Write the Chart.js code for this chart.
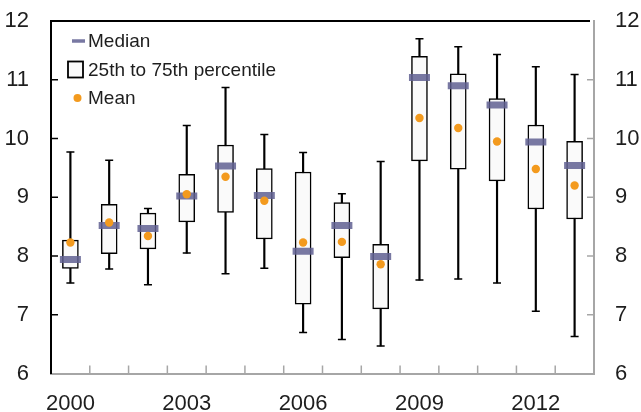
<!doctype html>
<html>
<head>
    <meta charset="utf-8">
    <title>Box plot 2000-2013</title>
    <script src="https://cdn.jsdelivr.net/npm/chart.js"></script>
    <style>
        html, body { margin: 0; padding: 0; background: #fff; }
        #wrap { width: 641px; height: 412px; }
    </style>
</head>
<body>
<div id="wrap"><canvas id="myChart" width="641" height="412"></canvas></div>

<script>
    var years = ['2000', '2001', '2002', '2003', '2004', '2005', '2006', '2007', '2008', '2009', '2010', '2011', '2012', '2013'];
    var whiskerHigh = [9.77, 9.63, 8.81, 10.22, 10.87, 10.07, 9.76, 9.06, 9.61, 11.70, 11.56, 11.43, 11.22, 11.09];
    var q3 = [8.27, 8.88, 8.73, 9.39, 9.89, 9.49, 9.43, 8.91, 8.20, 11.40, 11.10, 10.68, 10.23, 9.95];
    var median = [7.94, 8.52, 8.47, 9.02, 9.53, 9.03, 8.08, 8.52, 7.99, 11.04, 10.90, 10.57, 9.94, 9.54];
    var q1 = [7.79, 8.04, 8.12, 8.58, 8.74, 8.29, 7.18, 7.97, 7.10, 9.62, 9.48, 9.28, 8.80, 8.63];
    var whiskerLow = [7.54, 7.78, 7.51, 8.05, 7.70, 7.79, 6.70, 6.58, 6.47, 7.59, 7.61, 7.54, 7.06, 6.63];
    var mean = [8.23, 8.57, 8.34, 9.05, 9.35, 8.94, 8.23, 8.24, 7.86, 10.35, 10.18, 9.95, 9.48, 9.20];
    var yTicks = [6, 7, 8, 9, 10, 11, 12];
    var legendItems = ['Median', '25th to 75th percentile', 'Mean'];

    var medianColor = 'rgba(96,96,146,0.85)';
    var meanColor = '#f39a1e';
    var textColor = '#1e1e1e';
    var greyAxis = '#a6a6a6';
    var font = 'Liberation Sans, Arial, sans-serif';

    function pairs(lo, hi) {
        var out = [];
        for (var i = 0; i < lo.length; i++) {
            out.push([lo[i], hi[i]]);
        }
        return out;
    }

    // fixed axis sizes so the plot area sits where the original's does
    function fixWidth(w) {
        return function (s) {
            s.width = w;
            s.paddingTop = 0;
            s.paddingBottom = 0;
        };
    }

    // inward ticks, black top border and the legend inside the plot
    var framePlugin = {
        id: 'frame',
        afterDraw: function (chart) {
            var ctx = chart.ctx;
            var area = chart.chartArea;
            var x = chart.scales.x;
            var y = chart.scales.y;
            ctx.save();

            ctx.strokeStyle = '#000';
            ctx.lineWidth = 2;
            ctx.beginPath();
            ctx.moveTo(area.left - 1, area.top);
            ctx.lineTo(area.right - 4, area.top);
            ctx.stroke();

            ctx.lineWidth = 1.5;
            for (var i = 1; i < years.length; i++) {
                var bx = (x.getPixelForValue(i - 1) + x.getPixelForValue(i)) / 2;
                ctx.strokeStyle = greyAxis;
                ctx.beginPath();
                ctx.moveTo(bx, area.bottom);
                ctx.lineTo(bx, area.bottom - 8);
                ctx.stroke();
            }
            for (var j = 1; j < yTicks.length - 1; j++) {
                var ty = y.getPixelForValue(yTicks[j]);
                ctx.strokeStyle = '#000';
                ctx.beginPath();
                ctx.moveTo(area.left, ty);
                ctx.lineTo(area.left + 7, ty);
                ctx.stroke();
                ctx.strokeStyle = greyAxis;
                ctx.beginPath();
                ctx.moveTo(area.right, ty);
                ctx.lineTo(area.right - 7, ty);
                ctx.stroke();
            }

            // legend
            var lx = area.left + 21;
            var rows = [area.top + 20, area.top + 48.5, area.top + 77];
            ctx.strokeStyle = medianColor;
            ctx.lineWidth = 3.5;
            ctx.beginPath();
            ctx.moveTo(lx, rows[0]);
            ctx.lineTo(lx + 13, rows[0]);
            ctx.stroke();

            ctx.fillStyle = '#fafafa';
            ctx.strokeStyle = '#000';
            ctx.lineWidth = 1.8;
            ctx.fillRect(lx - 4, rows[1] - 8, 15, 16);
            ctx.strokeRect(lx - 4, rows[1] - 8, 15, 16);

            ctx.fillStyle = meanColor;
            ctx.beginPath();
            ctx.arc(lx + 5.5, rows[2], 4, 0, Math.PI * 2);
            ctx.fill();

            ctx.fillStyle = textColor;
            ctx.font = '19px ' + font;
            ctx.textBaseline = 'middle';
            ctx.textAlign = 'left';
            for (var k = 0; k < legendItems.length; k++) {
                ctx.fillText(legendItems[k], lx + 16, rows[k] + 1);
            }
            ctx.restore();
        }
    };

    var tickFont = { family: font, size: 22 };

    new Chart(document.getElementById('myChart'), {
        type: 'bar',
        data: {
            labels: years,
            datasets: [{
                label: 'whisker',
                data: pairs(whiskerLow, whiskerHigh),
                backgroundColor: '#000',
                barThickness: 1.5,
                grouped: false,
                order: 5
            }, {
                label: 'box',
                data: pairs(q1, q3),
                backgroundColor: '#fafafa',
                borderColor: '#000',
                borderWidth: 1.5,
                borderSkipped: false,
                barThickness: 16,
                grouped: false,
                order: 4
            }, {
                type: 'line',
                label: 'high',
                data: whiskerHigh,
                showLine: false,
                pointStyle: 'line',
                pointRadius: 4,
                pointBorderWidth: 1.5,
                pointBorderColor: '#000',
                order: 3
            }, {
                type: 'line',
                label: 'low',
                data: whiskerLow,
                showLine: false,
                pointStyle: 'line',
                pointRadius: 4,
                pointBorderWidth: 1.5,
                pointBorderColor: '#000',
                order: 3
            }, {
                type: 'line',
                label: 'Median',
                data: median,
                showLine: false,
                pointStyle: 'line',
                pointRadius: 10.5,
                pointBorderWidth: 7,
                pointBorderColor: medianColor,
                order: 1
            }, {
                type: 'line',
                label: 'Mean',
                data: mean,
                showLine: false,
                pointStyle: 'circle',
                pointRadius: 4.2,
                pointBorderWidth: 0,
                pointBackgroundColor: meanColor,
                order: 0
            }]
        },
        options: {
            responsive: false,
            animation: false,
            events: [],
            layout: { padding: { top: 21, left: 0, right: 0, bottom: 0 } },
            plugins: {
                legend: { display: false },
                tooltip: { enabled: false }
            },
            scales: {
                x: {
                    offset: true,
                    grid: { display: false, drawTicks: false },
                    border: { display: true, color: greyAxis, width: 2 },
                    ticks: {
                        autoSkip: false,
                        maxRotation: 0,
                        padding: 17,
                        color: textColor,
                        font: tickFont,
                        callback: function (v, i) {
                            return i % 3 === 0 ? years[i] : '';
                        }
                    },
                    afterFit: function (s) {
                        s.height = 38.5;
                        s.paddingLeft = 0;
                        s.paddingRight = 0;
                    }
                },
                y: {
                    position: 'left',
                    min: 6,
                    max: 12,
                    grid: { display: false, drawTicks: false },
                    border: { display: true, color: '#000', width: 2 },
                    ticks: { stepSize: 1, padding: 22, color: textColor, font: tickFont },
                    afterFit: fixWidth(51)
                },
                y2: {
                    position: 'right',
                    min: 6,
                    max: 12,
                    grid: { display: false, drawTicks: false },
                    border: { display: true, color: greyAxis, width: 2 },
                    ticks: { stepSize: 1, padding: 21, color: textColor, font: tickFont },
                    afterFit: fixWidth(47)
                }
            }
        },
        plugins: [framePlugin]
    });
</script>
</body>
</html>
